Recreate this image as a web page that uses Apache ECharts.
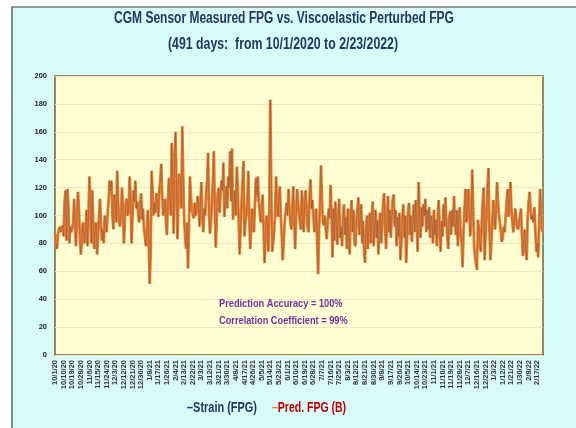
<!DOCTYPE html>
<html>
<head>
<meta charset="utf-8">
<script src="https://cdn.jsdelivr.net/npm/echarts@6/dist/echarts.min.js"></script>
<style>
html,body{margin:0;padding:0;background:#ffffff;}
#chart{width:576px;height:428px;}
</style>
</head>
<body>
<div id="chart"></div>
<script>
// ---- data ----
const startDate = [2020, 10, 1];   // first category (M/D/YY labels, one per day)
const dayCount = 511;
const yTicks = [0, 20, 40, 60, 80, 100, 120, 140, 160, 180, 200];

const strainFPG = [
87,80,76,85,90,92,88,91,93,85,
110,118,82,119,108,80,92,88,87,95,
112,90,78,100,117,105,85,72,80,95,
88,80,92,104,78,100,128,110,80,118,
95,76,90,95,72,85,100,112,95,82,
90,80,100,95,88,102,110,125,118,125,
100,90,115,108,95,132,110,95,92,100,
120,105,80,95,110,112,100,105,128,112,
80,98,118,110,125,105,110,100,95,108,
116,97,105,90,85,78,90,104,80,51,
75,132,118,100,109,102,116,110,99,118,
125,137,115,100,104,112,95,86,110,127,
115,100,152,125,87,140,160,120,83,130,
130,128,105,164,130,96,85,76,95,62,
90,128,103,103,102,98,109,100,105,114,
108,92,110,124,99,88,105,100,116,125,
145,100,87,95,110,125,146,105,77,103,
115,120,102,115,125,118,138,99,110,121,
105,128,120,146,110,148,97,105,118,100,
135,121,95,72,90,110,125,139,85,95,
100,110,132,100,76,90,105,95,88,110,
127,110,128,110,102,95,105,115,90,66,
85,100,95,74,110,183,120,74,80,88,
100,128,110,99,110,121,100,85,68,80,
95,102,109,100,119,105,95,90,105,121,
95,76,100,119,110,102,95,90,118,100,
88,110,118,106,92,88,112,126,105,111,
100,88,95,105,80,58,90,110,136,112,
95,93,100,90,83,95,105,98,122,100,
70,105,82,110,95,79,100,112,84,92,
78,98,108,86,99,76,105,85,72,102,
111,88,104,80,78,96,104,113,86,100,
108,80,96,74,66,88,100,76,92,102,
80,97,110,78,90,104,84,97,72,95,
102,80,97,110,116,90,76,100,114,88,
104,84,100,112,115,92,104,78,99,85,
102,68,80,98,108,84,100,66,84,104,
109,86,100,81,96,108,88,111,95,74,
124,100,84,106,92,108,100,112,88,104,
90,106,84,100,95,80,104,86,97,78,
100,111,90,74,96,85,108,92,113,96,
84,76,98,103,86,104,92,114,96,86,
104,78,100,106,86,80,63,90,105,119,
95,105,119,100,85,100,133,105,78,70,
65,61,97,90,80,74,95,110,120,68,
85,100,120,134,90,68,80,95,111,100,
90,105,124,110,100,95,88,81,85,92,
88,100,110,119,99,110,124,105,95,88,
95,105,98,92,90,95,100,105,85,71,
80,90,75,68,99,110,117,105,97,100,
95,106,90,74,80,70,95,119,100,90,88
];

const predFPG = [
87,80,76,85,90,92,88,91,93,85,
110,118,82,119,108,80,92,88,87,95,
112,90,78,100,117,105,85,72,80,95,
88,80,92,104,78,100,128,110,80,118,
95,76,90,95,72,85,100,112,95,82,
90,80,100,95,88,102,110,125,118,125,
100,90,115,108,95,132,110,95,92,100,
120,105,80,95,110,112,100,105,128,112,
80,98,118,110,125,105,110,100,95,108,
116,97,105,90,85,78,90,104,80,51,
75,132,118,100,109,102,116,110,99,118,
125,137,115,100,104,112,95,86,110,127,
115,100,152,125,87,140,160,120,83,110,
130,128,105,164,130,96,85,76,95,62,
90,128,115,105,102,98,109,100,105,114,
108,92,110,124,99,88,105,100,116,125,
145,100,87,95,110,125,146,105,77,95,
115,120,102,115,125,118,138,99,110,121,
105,128,120,146,110,148,97,105,118,100,
135,121,95,72,90,110,125,139,85,95,
100,110,132,100,76,90,105,95,88,110,
127,115,128,110,102,95,105,115,90,66,
85,100,95,74,110,183,120,74,80,88,
100,128,110,99,110,121,100,85,68,80,
95,102,109,100,119,105,95,90,105,121,
95,76,100,119,110,102,95,90,118,100,
88,110,118,106,92,88,112,126,105,111,
100,88,95,105,80,58,90,110,136,112,
95,93,100,90,83,95,105,98,122,100,
70,105,82,110,95,79,100,112,84,92,
78,98,108,86,99,76,105,85,72,102,
111,88,104,80,78,96,104,113,86,100,
108,80,96,74,66,88,100,76,92,102,
80,97,110,78,90,104,84,97,72,95,
102,80,97,110,116,90,76,100,114,88,
104,84,100,112,115,92,104,78,99,85,
102,68,80,98,108,84,100,66,84,104,
109,86,100,81,96,108,88,111,95,74,
124,100,84,106,92,108,100,112,88,104,
90,106,84,100,95,80,104,86,97,78,
100,111,90,74,96,85,108,92,113,96,
84,76,98,103,86,104,92,114,96,86,
104,78,100,106,86,80,63,90,105,119,
95,105,119,100,85,100,133,105,78,70,
65,61,97,90,80,74,95,110,120,68,
85,100,120,134,90,68,80,95,111,100,
90,105,124,110,100,95,88,81,85,92,
88,100,110,119,99,110,124,105,95,88,
95,105,98,92,90,95,100,105,85,71,
80,90,75,68,99,110,117,105,97,100,
95,106,90,74,80,70,95,119,100,90,88
];

// categories: consecutive days
const dates = [];
(function(){
  const d = new Date(startDate[0], startDate[1]-1, startDate[2]);
  for (let k = 0; k < dayCount; k++) {
    dates.push((d.getMonth()+1) + '/' + d.getDate() + '/' + String(d.getFullYear()).slice(2));
    d.setDate(d.getDate()+1);
  }
})();

const FONT = "'Liberation Sans', 'Noto Sans', sans-serif";
const titleLine1 = 'CGM Sensor Measured FPG vs. Viscoelastic Perturbed FPG';
const titleLine2 = '(491 days:  from 10/1/2020 to 2/23/2022)';
const seriesNames = ['Strain (FPG)', 'Pred. FPG (B)'];

const chart = echarts.init(document.getElementById('chart'), null, {renderer:'canvas'});
chart.setOption({
  backgroundColor: '#ffffff',
  animation: false,
  graphic: [
    {type:'rect', z:-10, shape:{x:12, y:7, width:570, height:430}, style:{fill:'#D8FBF9', stroke:'#3a3a3a', lineWidth:1.2}},
    {type:'text', x:284, y:19, scaleX:0.75, z:10, style:{text:titleLine1, x:0, y:0, textAlign:'center', textVerticalAlign:'middle', fill:'#1F3864', font:"bold 16px " + FONT}},
    {type:'text', x:283, y:45, scaleX:0.77, z:10, style:{text:titleLine2, x:0, y:0, textAlign:'center', textVerticalAlign:'middle', fill:'#1F3864', font:"bold 16px " + FONT}},
    {type:'text', x:219, y:304, scaleX:0.84, z:10, style:{text:'Prediction Accuracy = 100%', x:0, y:0, textVerticalAlign:'middle', fill:'#7030A0', font:"bold 11px " + FONT}},
    {type:'text', x:219, y:321, scaleX:0.84, z:10, style:{text:'Correlation Coefficient = 99%', x:0, y:0, textVerticalAlign:'middle', fill:'#7030A0', font:"bold 11px " + FONT}},
    {type:'text', x:187, y:408, scaleX:0.73, z:10, style:{text:'–' + seriesNames[0], x:0, y:0, textVerticalAlign:'middle', fill:'#1F3864', font:"bold 15px " + FONT}},
    {type:'text', x:272, y:408, scaleX:0.7, z:10, style:{text:'{d|–}{t|' + seriesNames[1] + '}', x:0, y:0, textVerticalAlign:'middle', font:"bold 15px " + FONT,
      rich:{d:{fill:'#EE7F2D', font:"bold 15px " + FONT}, t:{fill:'#C00000', font:"bold 15px " + FONT}}}}
  ],
  grid: {left: 55, right: 33, top: 76, bottom: 73, show: true, backgroundColor: '#FFFDD2', borderColor: '#7A6235', borderWidth: 1.5},
  xAxis: {
    type: 'category', data: dates, boundaryGap: false,
    axisLine: {show:false}, axisTick: {show:false},
    axisLabel: {interval: 8, rotate: 90, fontSize: 7.5, fontWeight:'bold', color:'#333', fontFamily: FONT, margin: 5}
  },
  yAxis: {
    type: 'value', min: yTicks[0], max: yTicks[yTicks.length-1], interval: 20,
    axisLine: {show:false}, axisTick: {show:false},
    axisLabel: {fontSize: 7.5, fontWeight:'bold', color:'#222', fontFamily: FONT, margin: 8},
    splitLine: {lineStyle: {color:'#EDE3BF', width: 1}}
  },
  series: [
    {name:seriesNames[0], type:'line', data: strainFPG, showSymbol:false, z:3,
      lineStyle:{color:'#1F3864', width:0.8, opacity:0.35}, itemStyle:{color:'#1F3864'}},
    {name:seriesNames[1], type:'line', data: predFPG, showSymbol:false, z:2,
      lineStyle:{color:'#EE7F2D', width:2.8}, itemStyle:{color:'#EE7F2D'}}
  ]
});
</script>
</body>
</html>
